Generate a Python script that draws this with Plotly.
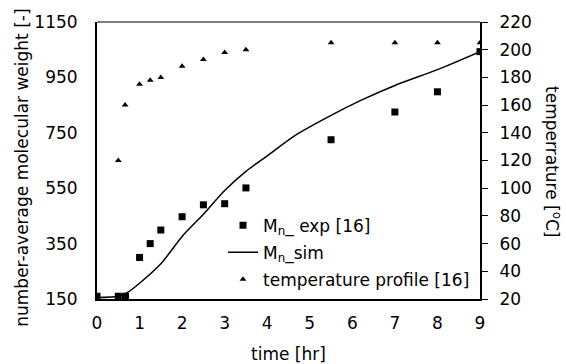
import plotly.graph_objects as go

# time [hr] for experimental Mn
t_exp = [0, 0.5, 0.67, 1.0, 1.25, 1.5, 2.0, 2.5, 3.0, 3.5, 5.5, 7.0, 8.0, 9.0]
mn_exp = [160, 160, 160, 300, 350, 399, 447, 490, 494, 551, 725, 825, 898, 1043]

# simulated Mn
t_sim = [0, 0.5, 0.69, 1.0, 1.5, 2.0, 2.5, 3.0, 3.5, 4.0, 4.65, 5.5, 6.2, 7.0, 8.0, 9.0]
mn_sim = [155, 160, 171, 207, 277, 376, 456, 542, 611, 667, 740, 813, 867, 921, 978, 1043]

# temperature profile
t_temp = [0, 0.5, 0.66, 1.0, 1.25, 1.5, 2.0, 2.5, 3.0, 3.5, 5.5, 7.0, 8.0, 9.0]
temp = [20, 120, 160, 175, 178, 180, 188, 193, 198, 200, 205, 205, 205, 205]

x_ticks = list(range(0, 10))
y1_ticks = [150, 350, 550, 750, 950, 1150]
y2_ticks = [20, 40, 60, 80, 100, 120, 140, 160, 180, 200, 220]

FONT = "DejaVu Sans, sans-serif"

fig = go.Figure()
fig.add_trace(go.Scatter(
    x=t_exp, y=mn_exp, mode="markers", name="M<sub>n</sub>_ exp [16]", legendgroup="a",
    marker=dict(symbol="square", size=7, color="black")))
fig.add_trace(go.Scatter(
    x=t_sim, y=mn_sim, mode="lines", name="M<sub>n</sub>_sim", legendgroup="b",
    line_shape="spline", line=dict(color="black", width=1.5, smoothing=0.8)))
fig.add_trace(go.Scatter(
    x=t_temp, y=temp, mode="markers", name="temperature profile [16]", yaxis="y2",
    legendgroup="c", marker=dict(symbol="triangle-up", size=6, color="black")))

fig.update_layout(
    width=566, height=364,
    margin=dict(l=97, r=86, t=19, b=65),
    paper_bgcolor="white", plot_bgcolor="white",
    font=dict(family=FONT, size=17, color="black"),
    showlegend=True,
    legend=dict(x=0.329, y=0.33, xanchor="left", yanchor="top",
                bgcolor="rgba(0,0,0,0)", font=dict(size=17), tracegroupgap=2),
    xaxis=dict(range=[0, 9], tickvals=x_ticks, showgrid=False, zeroline=False,
               showline=True, linecolor="black", linewidth=2, ticks="",
               ticklabelstandoff=8),
    yaxis=dict(range=[150, 1150], tickvals=y1_ticks, showgrid=False, zeroline=False,
               showline=True, linecolor="black", linewidth=2, ticks="",
               ticklabelstandoff=14),
    yaxis2=dict(range=[20, 220], tickvals=y2_ticks, overlaying="y", side="right",
                showgrid=False, zeroline=False, showline=True, linecolor="black",
                linewidth=2, ticks="outside", ticklen=6, tickwidth=1, tickcolor="black",
                ticklabelstandoff=8),
    shapes=[dict(type="line", xref="paper", yref="paper", x0=0, x1=1, y0=1, y1=1,
                 line=dict(color="black", width=1))],
    annotations=[
        dict(text="time [hr]", xref="paper", yref="paper", x=0.5, y=-0.2,
             xanchor="center", yanchor="middle", showarrow=False),
        dict(text="number-average molecular weight [-]", xref="paper", yref="paper",
             x=-0.195, y=0.475, xanchor="center", yanchor="middle", textangle=-90,
             showarrow=False),
        dict(text="temperrature [<sup>o</sup>C]", xref="paper", yref="paper",
             x=1.19, y=0.495, xanchor="center", yanchor="middle", textangle=90,
             showarrow=False),
    ],
)

fig.write_html("out.html")
